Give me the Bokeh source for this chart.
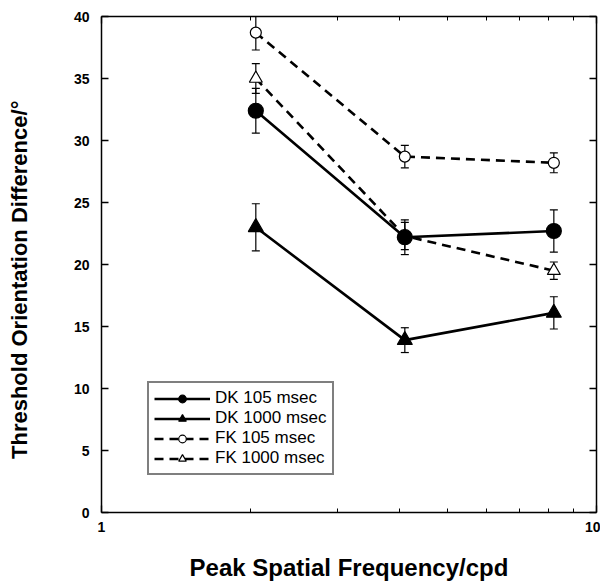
from bokeh.plotting import figure
from bokeh.models import (Range1d, FixedTicker, LinearAxis, LogAxis, Whisker, TeeHead,
                          ColumnDataSource, Legend, LegendItem)
from bokeh.embed import file_html
from bokeh.resources import INLINE

# ---- data ----
freq = [2.05, 4.1, 8.2]
dk105 = [32.4, 22.2, 22.7]
dk105_err = [1.8, 1.4, 1.7]
dk1000 = [23.0, 13.9, 16.1]
dk1000_err = [1.9, 1.0, 1.3]
fk105 = [38.7, 28.7, 28.2]
fk105_err = [1.4, 0.9, 0.8]
fk1000 = [35.0, 22.3, 19.5]
fk1000_err = [1.2, 1.1, 0.7]

series_names = ["DK 105 msec", "DK 1000 msec", "FK 105 msec", "FK 1000 msec"]
y_ticks = [0, 5, 10, 15, 20, 25, 30, 35, 40]
x_major = [1, 10]
x_minor = [2, 3, 4, 5, 6, 7, 8, 9]

FONT = "Liberation Sans"

p = figure(width=600, height=586, x_axis_type="log",
           x_range=Range1d(1, 10), y_range=Range1d(0, 40),
           output_backend="svg", toolbar_location=None,
           min_border_left=101, min_border_right=4, min_border_top=16, min_border_bottom=74)
p.grid.visible = False
p.outline_line_color = None

# axes styling
def style_axis(ax):
    ax.axis_line_width = 1.5
    ax.axis_line_color = "black"
    ax.major_tick_line_width = 1.3
    ax.minor_tick_line_width = 1.0
    ax.major_tick_line_color = "black"
    ax.minor_tick_line_color = "black"
    ax.major_tick_in = 7
    ax.major_tick_out = 0
    ax.minor_tick_in = 4
    ax.minor_tick_out = 0
    ax.major_label_text_font = FONT
    ax.major_label_text_font_style = "bold"
    ax.major_label_text_font_size = "14px"
    ax.major_label_text_color = "black"
    ax.axis_label_text_color = "black"

yl = p.yaxis[0]
yl.ticker = FixedTicker(ticks=y_ticks, minor_ticks=[])
style_axis(yl)
yl.major_label_standoff = 12
yl.axis_label = "Threshold Orientation Difference/°" + "\u00a0" * 5
yl.axis_label_text_font = FONT
yl.axis_label_text_font_style = "bold"
yl.axis_label_text_font_size = "22px"
yl.axis_label_standoff = 39

xb = p.xaxis[0]
xb.ticker = FixedTicker(ticks=x_major, minor_ticks=x_minor)
style_axis(xb)
xb.major_label_overrides = {1: "1", 10: "10"}
xb.major_label_standoff = 9
xb.axis_label = "Peak Spatial Frequency/cpd"
xb.axis_label_text_font = FONT
xb.axis_label_text_font_style = "bold"
xb.axis_label_text_font_size = "24px"
xb.axis_label_standoff = 19

yr = LinearAxis(ticker=FixedTicker(ticks=y_ticks, minor_ticks=[]))
style_axis(yr)
yr.major_label_overrides = {t: "" for t in y_ticks}
yr.major_label_standoff = 0
p.add_layout(yr, "right")

xt = LogAxis(ticker=FixedTicker(ticks=x_major, minor_ticks=x_minor))
style_axis(xt)
xt.major_label_overrides = {t: "" for t in x_major}
xt.major_label_standoff = 0
p.add_layout(xt, "above")

# ---- series ----
vals = [dk105, dk1000, fk105, fk1000]
errs = [dk105_err, dk1000_err, fk105_err, fk1000_err]
dashes = ["solid", "solid", "9 6", "9 6"]
markers = ["circle", "triangle", "circle", "triangle"]
fills = ["black", "black", "white", "white"]
sizes = [15, 15, 11, 13]

items = {}
# draw the open (FK) series first so the filled (DK) markers sit on top
for i in [2, 3, 0, 1]:
    name, v, e, d, m, f, s = (series_names[i], vals[i], errs[i], dashes[i],
                              markers[i], fills[i], sizes[i])
    src = ColumnDataSource(dict(x=freq, y=v,
                                lo=[a - b for a, b in zip(v, e)],
                                hi=[a + b for a, b in zip(v, e)]))
    w = Whisker(source=src, base="x", lower="lo", upper="hi", dimension="height",
                line_width=1.2, line_color="black",
                upper_head=TeeHead(size=8, line_width=1.2, line_color="black"),
                lower_head=TeeHead(size=8, line_width=1.2, line_color="black"))
    p.add_layout(w)
    lr = p.line("x", "y", source=src, line_width=2.6, line_color="black", line_dash=d)
    sr = p.scatter("x", "y", source=src, marker=m, size=s, fill_color=f,
                   line_color="black", line_width=1.2)
    items[i] = LegendItem(label=name, renderers=[lr, sr])

legend = Legend(items=[items[i] for i in range(4)], location=(46, 37),
                label_text_font=FONT, label_text_font_size="17px",
                label_text_color="black",
                glyph_width=56, glyph_height=19, label_height=19, label_standoff=5,
                spacing=0, padding=5, margin=0,
                border_line_color="black", border_line_width=2,
                background_fill_color="white", background_fill_alpha=1.0)
p.add_layout(legend, "center")

open("out.html", "w").write(file_html(p, INLINE))
